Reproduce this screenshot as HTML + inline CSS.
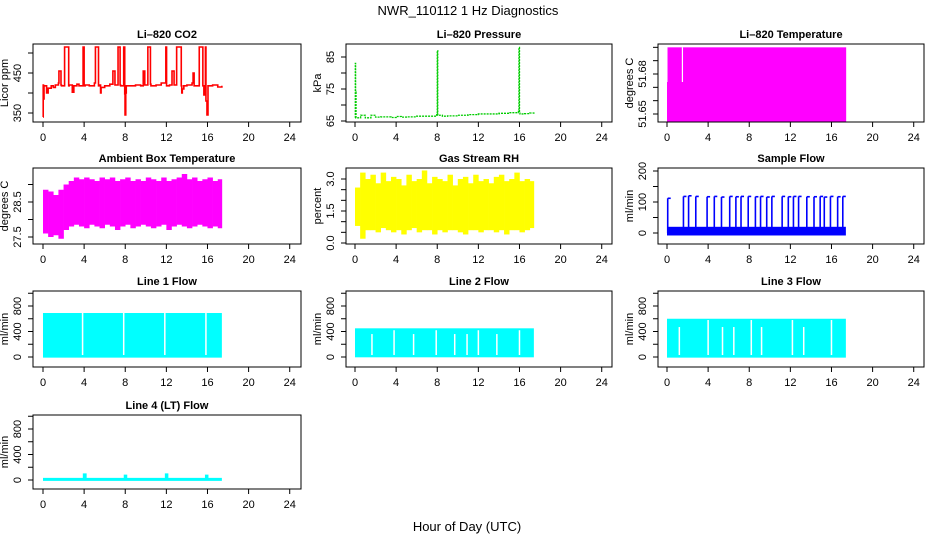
<!DOCTYPE html>
<html><head><meta charset="utf-8"><style>
html,body{margin:0;padding:0;background:#fff;}
svg{display:block;font-family:"Liberation Sans",sans-serif;}
</style></head><body>
<svg id="c" width="936" height="540" viewBox="0 0 936 540">
<text x="468" y="15" text-anchor="middle" font-size="13">NWR_110112  1 Hz Diagnostics</text>
<text x="467" y="531" text-anchor="middle" font-size="13">Hour of Day (UTC)</text>
</svg>
<script>
const xTicks=[0,4,8,12,16,20,24];
// CO2
const co2Hours=[0,0.02,0.05,0.1,0.3,0.35,0.5,0.8,1.0,1.2,1.5,1.55,1.75,1.8,2.1,2.5,2.55,2.8,2.85,3.0,3.3,3.5,3.9,4.0,4.1,4.5,5.0,5.1,5.4,5.45,5.6,5.65,6.0,6.5,6.8,7.0,7.3,7.5,7.55,7.85,7.95,7.98,8.05,8.1,8.3,9.0,9.5,9.75,9.9,10.2,10.45,10.5,11.0,11.5,11.95,12.02,12.3,12.55,12.75,13.0,13.45,13.5,13.55,13.7,14.0,14.5,14.6,14.7,15.2,15.55,15.65,15.8,15.85,15.95,16.05,16.3,16.5,17.0,17.4];
const co2Vals=[340,420,385,418,418,400,412,418,414,420,425,455,420,418,515,418,420,420,402,418,422,418,515,418,420,418,425,515,418,420,400,414,418,422,455,420,515,420,418,515,398,345,400,418,418,420,418,455,420,515,422,418,420,425,515,418,420,455,420,515,418,400,410,418,420,425,450,418,515,418,395,515,380,345,418,418,420,415,418];
// Pressure
const presHours=[0,0.03,0.06,0.1,0.5,0.55,1,1.5,1.55,2,2.5,3,3.5,4,4.5,5,6,7,7.95,8.0,8.05,8.5,9,10,11,12,13,14,15,15.9,15.95,16.0,16.05,16.5,17,17.4];
const presVals=[66,83,74,66,66,66.8,66,66,66.8,66.2,66.3,66.3,66.1,66.4,66.2,66.3,66.5,66.5,67,87,66.8,66.5,66.6,66.8,67,67.2,67.2,67.4,67.6,68,88,67.8,67.2,67.3,67.5,67.2];
// Li-820 temperature
const tempHours=[0,0.05,17.4];
const tempHi=[51.674,51.7,51.7];
const tempLo=[51.644,51.644,51.644];
const tempGapHours=[1.5];
const tempGapLo=[51.674];
// Ambient box temperature (0.5 h bins)
const ambHi=[28.85,28.8,28.7,28.85,29.0,29.1,29.2,29.15,29.2,29.15,29.1,29.2,29.15,29.2,29.1,29.15,29.2,29.1,29.15,29.1,29.2,29.15,29.1,29.2,29.1,29.15,29.2,29.3,29.15,29.2,29.1,29.15,29.2,29.1,29.15];
const ambLo=[27.6,27.5,27.55,27.45,27.7,27.8,27.85,27.8,27.75,27.85,27.8,27.75,27.85,27.8,27.7,27.8,27.85,27.75,27.8,27.85,27.8,27.75,27.8,27.85,27.7,27.8,27.85,27.8,27.75,27.8,27.85,27.8,27.75,27.8,27.75];
// Gas stream RH (0.5 h bins)
const rhHi=[2.6,3.3,3.0,3.2,2.8,3.3,2.9,3.1,3.0,2.7,3.2,2.9,3.0,3.4,2.8,3.1,3.0,2.9,3.2,2.7,3.0,3.1,2.8,3.2,2.9,3.0,2.8,3.1,3.2,2.9,3.0,3.3,2.9,3.0,2.9];
const rhLo=[0.8,0.2,0.6,0.6,0.5,0.7,0.6,0.5,0.6,0.4,0.6,0.7,0.5,0.6,0.6,0.4,0.6,0.5,0.6,0.6,0.5,0.4,0.6,0.6,0.5,0.6,0.6,0.5,0.6,0.4,0.6,0.6,0.5,0.6,0.7];
// Sample flow
const sampleBase=[-8,20];
const sampleSpikeHours=[0.07,1.6,2.1,2.8,3.9,4.6,5.3,6.1,6.7,7.2,7.9,8.6,9.1,9.7,10.2,11.2,11.8,12.3,12.8,13.6,14.3,14.9,15.3,15.9,16.6,17.1];
const sampleSpikeVals=[112,118,120,118,117,118,116,118,117,118,118,117,118,116,118,118,117,118,118,117,117,118,116,118,117,118];
// Line flows
const flowEnd=17.4;
const l1Hi=690, l1Lo=-10;
const l1GapHours=[3.85,7.85,11.85,15.85];
const l1GapTop=[690,690,690,690];
const l2Hi=450, l2Lo=-5;
const l2GapHours=[1.65,3.8,5.7,7.9,9.7,10.9,12.0,13.8,16.0];
const l2GapTop=[360,420,360,420,360,360,420,360,420];
const l3Hi=600, l3Lo=-10;
const l3GapHours=[1.2,4.0,5.4,6.5,8.2,9.2,12.2,13.3,16.0];
const l3GapTop=[470,580,470,470,580,470,580,470,580];
const l4Hours=[0,4.0,4.02,4.1,7.98,8.0,8.05,11.98,12.0,12.05,15.88,15.9,15.95,17.4];
const l4Vals=[10,10,80,10,10,60,10,10,80,10,10,60,10,10];

const NS='http://www.w3.org/2000/svg';
const svg=document.getElementById('c');
const cols=[{l:33,r:301,x0:43},{l:346,r:612,x0:355},{l:658,r:924,x0:667}];
const rows=[{t:44,b:122},{t:168,b:244},{t:291,b:367},{t:415,b:489}];
const PXH=10.28;
function mk(tag,attrs,parent){const e=document.createElementNS(NS,tag);for(const k in attrs)e.setAttribute(k,attrs[k]);(parent||svg).appendChild(e);return e;}

function panel(key,ci,ri,title,ylab,v1,y1,v2,y2,ticks,labels){
  const c=cols[ci],r=rows[ri];
  const g=mk('g',{});
  
  
  const X=h=>c.x0+h*PXH;
  const Y=v=>y1+(v-v1)*(y2-y1)/(v2-v1);
  const clipId='clip-'+key;
  const cp=mk('clipPath',{id:clipId},g);
  mk('rect',{x:c.l,y:r.t,width:c.r-c.l,height:r.b-r.t},cp);
  const plot=mk('g',{'clip-path':'url(#'+clipId+')'},g);
  
  
  const box=mk('rect',{x:c.l,y:r.t,width:c.r-c.l,height:r.b-r.t,fill:'none',stroke:'#000','stroke-width':1},g);
  
  
  const tt=mk('text',{x:(c.l+c.r)/2,y:r.t-6,'text-anchor':'middle','font-size':11,'font-weight':'bold'},g);
  tt.textContent=title;
  
  
  xTicks.forEach(h=>{
    const tk=mk('line',{x1:X(h),x2:X(h),y1:r.b,y2:r.b+5,stroke:'#000'},g);
    
    
    const tl=mk('text',{x:X(h),y:r.b+19,'text-anchor':'middle','font-size':11},g);
    tl.textContent=String(h);
    
    
  });
  ticks.forEach(v=>{
    const y=Y(v); if(y<r.t-1||y>r.b+1) return;
    const tk=mk('line',{x1:c.l-5,x2:c.l,y1:y,y2:y,stroke:'#000'},g);
    
    
  });
  labels.forEach(v=>{
    const y=Y(v),x=c.l-12;
    const tl=mk('text',{x:x,y:y,'text-anchor':'middle','font-size':11,transform:'rotate(-90 '+x+' '+y+')'},g);
    tl.textContent=(key==='rh'||key==='ambient')?v.toFixed(1):String(v);
    
    
  });
  const yx=c.l-25,yy=(r.t+r.b)/2;
  const yl=mk('text',{x:yx,y:yy,'text-anchor':'middle','font-size':11,transform:'rotate(-90 '+yx+' '+yy+')'},g);
  yl.textContent=ylab;
  
  
  return {plot,X,Y};
}
function stepPath(X,Y,hs,vs){let d='M'+X(hs[0])+' '+Y(vs[0]);for(let i=1;i<hs.length;i++){d+=' H'+X(hs[i])+' V'+Y(vs[i]);}return d;}
function binBand(p,hi,lo,w,color,name){
  for(let i=0;i<hi.length;i++){
    const x=p.X(i*w),x2=p.X(Math.min((i+1)*w,17.4));
    const rc=mk('rect',{x:x,y:p.Y(hi[i]),width:Math.max(x2-x,0.5)+0.3,height:p.Y(lo[i])-p.Y(hi[i]),fill:color},p.plot);
    
    
  }
}
function flowBand(p,hi,lo,gh,gt,name){
  const rc=mk('rect',{x:p.X(0),y:p.Y(hi),width:p.X(flowEnd)-p.X(0),height:p.Y(lo)-p.Y(hi),fill:'#00ffff'},p.plot);
  
  
  for(let i=0;i<gh.length;i++){
    const gl=mk('line',{x1:p.X(gh[i]),x2:p.X(gh[i]),y1:p.Y(0)-2,y2:p.Y(gt[i]),stroke:'#fff','stroke-width':1.5},p.plot);
    
    
  }
}

// CO2
let p=panel('co2',0,0,'Li\u2013820 CO2','Licor ppm',350,113,450,73,[350,400,450,500],[350,450]);
let e=mk('path',{d:stepPath(p.X,p.Y,co2Hours,co2Vals),fill:'none',stroke:'#ff0000','stroke-width':1.6},p.plot);



// Pressure
p=panel('pressure',1,0,'Li\u2013820 Pressure','kPa',65,121,85,57,[65,70,75,80,85],[65,75,85]);
e=mk('path',{d:stepPath(p.X,p.Y,presHours,presVals),fill:'none',stroke:'#00cc00','stroke-width':1.3,'stroke-dasharray':'2 1'},p.plot);



// Li-820 temperature
p=panel('li820-temp',2,0,'Li\u2013820 Temperature','degrees C',51.65,114,51.68,74,[51.64,51.65,51.66,51.67,51.68,51.69,51.70],[51.65,51.68]);
for(let i=0;i<tempHours.length-1;i++){
  const rc=mk('rect',{x:p.X(tempHours[i]),y:p.Y(tempHi[i]),width:p.X(tempHours[i+1])-p.X(tempHours[i])+0.3,height:p.Y(tempLo[i])-p.Y(tempHi[i]),fill:'#ff00ff'},p.plot);
  
  
}
for(let i=0;i<tempGapHours.length;i++){
  const gl=mk('line',{x1:p.X(tempGapHours[i]),x2:p.X(tempGapHours[i]),y1:p.Y(tempGapLo[i]),y2:p.Y(51.70),stroke:'#fff','stroke-width':1.2},p.plot);
  
  
}

// Ambient
p=panel('ambient',0,1,'Ambient Box Temperature','degrees C',27.5,237,28.5,202,[27.5,28.0,28.5,29.0],[27.5,28.5]);
binBand(p,ambHi,ambLo,0.5,'#ff00ff','ambient-bin');

// RH
p=panel('rh',1,1,'Gas Stream RH','percent',0,243,3,179,[0,0.5,1,1.5,2,2.5,3],[0,1.5,3]);
binBand(p,rhHi,rhLo,0.5,'#ffff00','rh-bin');

// Sample flow
p=panel('sample-flow',2,1,'Sample Flow','ml/min',0,233,200,171,[0,50,100,150,200],[0,100,200]);
e=mk('rect',{x:p.X(0),y:p.Y(sampleBase[1]),width:p.X(17.4)-p.X(0),height:p.Y(sampleBase[0])-p.Y(sampleBase[1]),fill:'#0000ff'},p.plot);


for(let i=0;i<sampleSpikeHours.length;i++){
  const sl=mk('line',{x1:p.X(sampleSpikeHours[i]),x2:p.X(sampleSpikeHours[i]),y1:p.Y(0),y2:p.Y(sampleSpikeVals[i]),stroke:'#0000ff','stroke-width':1.6},p.plot);
  
  
  const sc=mk('line',{x1:p.X(sampleSpikeHours[i]),x2:p.X(sampleSpikeHours[i])+3,y1:p.Y(sampleSpikeVals[i]),y2:p.Y(sampleSpikeVals[i]),stroke:'#0000ff','stroke-width':1.6},p.plot);
  
  
}

// Line flows
const fT=[0,200,400,600,800,1000],fL=[0,400,800];
p=panel('line1-flow',0,2,'Line 1 Flow','ml/min',0,357,800,306,fT,fL);
flowBand(p,l1Hi,l1Lo,l1GapHours,l1GapTop,'line1-flow');
p=panel('line2-flow',1,2,'Line 2 Flow','ml/min',0,357,800,306,fT,fL);
flowBand(p,l2Hi,l2Lo,l2GapHours,l2GapTop,'line2-flow');
p=panel('line3-flow',2,2,'Line 3 Flow','ml/min',0,357,800,306,fT,fL);
flowBand(p,l3Hi,l3Lo,l3GapHours,l3GapTop,'line3-flow');
p=panel('line4-flow',0,3,'Line 4 (LT) Flow','ml/min',0,480,800,429,fT,fL);
e=mk('path',{d:stepPath(p.X,p.Y,l4Hours,l4Vals),fill:'none',stroke:'#00ffff','stroke-width':3},p.plot);


</script>
</body></html>
